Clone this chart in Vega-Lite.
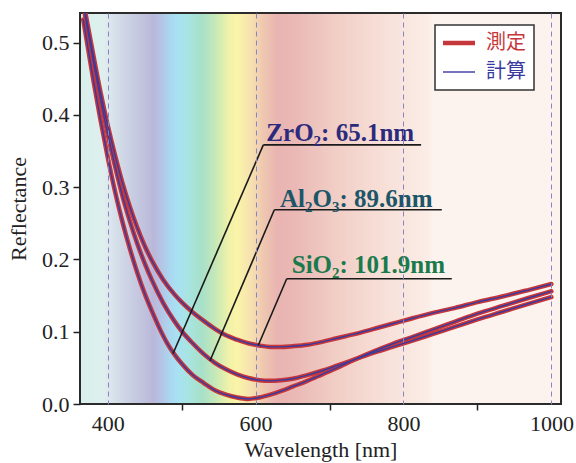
{
  "$schema": "https://vega.github.io/schema/vega-lite/v6.json",
  "width": 481,
  "height": 391,
  "autosize": {"type": "none"},
  "padding": {"left": 80, "top": 13, "right": 15, "bottom": 59},
  "background": "white",
  "config": {
    "font": "Liberation Serif",
    "view": {"stroke": null},
    "legend": {
      "orient": "none",
      "legendX": 355,
      "legendY": 12,
      "title": null,
      "symbolType": "M-1,0H2.2",
      "symbolSize": 400,
      "labelFontSize": 20,
      "labelFont": "Noto Sans CJK JP",
      "labelOffset": 23,
      "padding": 8,
      "rowPadding": 9,
      "fillColor": "white",
      "strokeColor": "#333333"
    }
  },
  "datasets": {
    "curves": [
      {"film": "ZrO2", "wl": 367, "R": 0.532},
      {"film": "ZrO2", "wl": 380, "R": 0.452},
      {"film": "ZrO2", "wl": 390, "R": 0.395},
      {"film": "ZrO2", "wl": 400, "R": 0.342},
      {"film": "ZrO2", "wl": 410, "R": 0.294},
      {"film": "ZrO2", "wl": 420, "R": 0.252},
      {"film": "ZrO2", "wl": 430, "R": 0.215},
      {"film": "ZrO2", "wl": 440, "R": 0.182},
      {"film": "ZrO2", "wl": 450, "R": 0.153},
      {"film": "ZrO2", "wl": 460, "R": 0.128},
      {"film": "ZrO2", "wl": 470, "R": 0.105},
      {"film": "ZrO2", "wl": 480, "R": 0.085},
      {"film": "ZrO2", "wl": 490, "R": 0.069},
      {"film": "ZrO2", "wl": 500, "R": 0.056},
      {"film": "ZrO2", "wl": 515, "R": 0.040},
      {"film": "ZrO2", "wl": 530, "R": 0.029},
      {"film": "ZrO2", "wl": 545, "R": 0.019},
      {"film": "ZrO2", "wl": 560, "R": 0.013},
      {"film": "ZrO2", "wl": 575, "R": 0.009},
      {"film": "ZrO2", "wl": 590, "R": 0.007},
      {"film": "ZrO2", "wl": 605, "R": 0.009},
      {"film": "ZrO2", "wl": 620, "R": 0.013},
      {"film": "ZrO2", "wl": 635, "R": 0.018},
      {"film": "ZrO2", "wl": 650, "R": 0.024},
      {"film": "ZrO2", "wl": 670, "R": 0.032},
      {"film": "ZrO2", "wl": 690, "R": 0.041},
      {"film": "ZrO2", "wl": 710, "R": 0.050},
      {"film": "ZrO2", "wl": 735, "R": 0.062},
      {"film": "ZrO2", "wl": 760, "R": 0.073},
      {"film": "ZrO2", "wl": 785, "R": 0.083},
      {"film": "ZrO2", "wl": 810, "R": 0.092},
      {"film": "ZrO2", "wl": 840, "R": 0.103},
      {"film": "ZrO2", "wl": 870, "R": 0.114},
      {"film": "ZrO2", "wl": 900, "R": 0.125},
      {"film": "ZrO2", "wl": 935, "R": 0.136},
      {"film": "ZrO2", "wl": 970, "R": 0.147},
      {"film": "ZrO2", "wl": 1000, "R": 0.156},
      {"film": "Al2O3", "wl": 367, "R": 0.552},
      {"film": "Al2O3", "wl": 380, "R": 0.478},
      {"film": "Al2O3", "wl": 390, "R": 0.424},
      {"film": "Al2O3", "wl": 400, "R": 0.374},
      {"film": "Al2O3", "wl": 410, "R": 0.329},
      {"film": "Al2O3", "wl": 420, "R": 0.288},
      {"film": "Al2O3", "wl": 430, "R": 0.253},
      {"film": "Al2O3", "wl": 440, "R": 0.222},
      {"film": "Al2O3", "wl": 450, "R": 0.195},
      {"film": "Al2O3", "wl": 460, "R": 0.171},
      {"film": "Al2O3", "wl": 475, "R": 0.140},
      {"film": "Al2O3", "wl": 490, "R": 0.115},
      {"film": "Al2O3", "wl": 500, "R": 0.101},
      {"film": "Al2O3", "wl": 515, "R": 0.084},
      {"film": "Al2O3", "wl": 530, "R": 0.069},
      {"film": "Al2O3", "wl": 545, "R": 0.057},
      {"film": "Al2O3", "wl": 560, "R": 0.048},
      {"film": "Al2O3", "wl": 575, "R": 0.041},
      {"film": "Al2O3", "wl": 590, "R": 0.036},
      {"film": "Al2O3", "wl": 605, "R": 0.033},
      {"film": "Al2O3", "wl": 620, "R": 0.032},
      {"film": "Al2O3", "wl": 635, "R": 0.033},
      {"film": "Al2O3", "wl": 650, "R": 0.035},
      {"film": "Al2O3", "wl": 670, "R": 0.040},
      {"film": "Al2O3", "wl": 690, "R": 0.046},
      {"film": "Al2O3", "wl": 710, "R": 0.053},
      {"film": "Al2O3", "wl": 735, "R": 0.062},
      {"film": "Al2O3", "wl": 760, "R": 0.071},
      {"film": "Al2O3", "wl": 785, "R": 0.079},
      {"film": "Al2O3", "wl": 810, "R": 0.087},
      {"film": "Al2O3", "wl": 840, "R": 0.097},
      {"film": "Al2O3", "wl": 870, "R": 0.107},
      {"film": "Al2O3", "wl": 900, "R": 0.117},
      {"film": "Al2O3", "wl": 935, "R": 0.128},
      {"film": "Al2O3", "wl": 970, "R": 0.139},
      {"film": "Al2O3", "wl": 1000, "R": 0.148},
      {"film": "SiO2", "wl": 367, "R": 0.557},
      {"film": "SiO2", "wl": 380, "R": 0.486},
      {"film": "SiO2", "wl": 390, "R": 0.433},
      {"film": "SiO2", "wl": 400, "R": 0.386},
      {"film": "SiO2", "wl": 410, "R": 0.344},
      {"film": "SiO2", "wl": 420, "R": 0.306},
      {"film": "SiO2", "wl": 430, "R": 0.273},
      {"film": "SiO2", "wl": 440, "R": 0.244},
      {"film": "SiO2", "wl": 450, "R": 0.219},
      {"film": "SiO2", "wl": 460, "R": 0.198},
      {"film": "SiO2", "wl": 475, "R": 0.172},
      {"film": "SiO2", "wl": 490, "R": 0.152},
      {"film": "SiO2", "wl": 500, "R": 0.141},
      {"film": "SiO2", "wl": 515, "R": 0.127},
      {"film": "SiO2", "wl": 530, "R": 0.115},
      {"film": "SiO2", "wl": 545, "R": 0.104},
      {"film": "SiO2", "wl": 560, "R": 0.095},
      {"film": "SiO2", "wl": 575, "R": 0.089},
      {"film": "SiO2", "wl": 590, "R": 0.084},
      {"film": "SiO2", "wl": 605, "R": 0.081},
      {"film": "SiO2", "wl": 620, "R": 0.079},
      {"film": "SiO2", "wl": 635, "R": 0.079},
      {"film": "SiO2", "wl": 650, "R": 0.080},
      {"film": "SiO2", "wl": 670, "R": 0.082},
      {"film": "SiO2", "wl": 690, "R": 0.086},
      {"film": "SiO2", "wl": 710, "R": 0.091},
      {"film": "SiO2", "wl": 735, "R": 0.097},
      {"film": "SiO2", "wl": 760, "R": 0.104},
      {"film": "SiO2", "wl": 785, "R": 0.111},
      {"film": "SiO2", "wl": 810, "R": 0.118},
      {"film": "SiO2", "wl": 840, "R": 0.126},
      {"film": "SiO2", "wl": 870, "R": 0.133},
      {"film": "SiO2", "wl": 900, "R": 0.141},
      {"film": "SiO2", "wl": 935, "R": 0.149},
      {"film": "SiO2", "wl": 970, "R": 0.158},
      {"film": "SiO2", "wl": 1000, "R": 0.166}
    ],
    "notes": [
      {"film": "ZrO2", "label": "ZrO₂: 65.1nm", "tx": 614.6, "ty": 0.3645, "cx": 610.5, "cy": 0.3585, "ex": 823.8, "px": 488.3, "py": 0.0696},
      {"film": "Al2O3", "label": "Al₂O₃: 89.6nm", "tx": 633.1, "ty": 0.2732, "cx": 625.4, "cy": 0.2687, "ex": 851.8, "px": 538.4, "py": 0.0599},
      {"film": "SiO2", "label": "SiO₂: 101.9nm", "tx": 648.9, "ty": 0.1811, "cx": 642.1, "cy": 0.1733, "ex": 865.3, "px": 603.7, "py": 0.0813}
    ]
  },
  "layer": [
    {
      "data": {"values": [{}]},
      "mark": {
        "type": "rect",
        "stroke": "#2b2b2b",
        "strokeWidth": 2,
        "fill": {
          "gradient": "linear",
          "x1": 0, "y1": 0, "x2": 1, "y2": 0,
          "stops": [
            {"offset": 0, "color": "#d9efec"},
            {"offset": 0.036, "color": "#dcf0ee"},
            {"offset": 0.05, "color": "#e0eeee"},
            {"offset": 0.073, "color": "#d6e0ea"},
            {"offset": 0.111, "color": "#c8cce2"},
            {"offset": 0.153, "color": "#bab8da"},
            {"offset": 0.168, "color": "#b4c4e4"},
            {"offset": 0.188, "color": "#aad8f0"},
            {"offset": 0.204, "color": "#a8e2f2"},
            {"offset": 0.227, "color": "#a8e4e0"},
            {"offset": 0.254, "color": "#a8e0c8"},
            {"offset": 0.28, "color": "#c4e8b8"},
            {"offset": 0.311, "color": "#f2f2a8"},
            {"offset": 0.327, "color": "#faf4a8"},
            {"offset": 0.357, "color": "#f6e0b0"},
            {"offset": 0.38, "color": "#efc8b0"},
            {"offset": 0.411, "color": "#e9b4b2"},
            {"offset": 0.45, "color": "#eab9b6"},
            {"offset": 0.519, "color": "#f0cbc3"},
            {"offset": 0.596, "color": "#f5dad2"},
            {"offset": 0.673, "color": "#f9e6de"},
            {"offset": 0.726, "color": "#fbede7"},
            {"offset": 0.734, "color": "#fdf3ee"},
            {"offset": 1, "color": "#fdf3ee"}
          ]
        }
      },
      "encoding": {
        "x": {
          "datum": 362.6,
          "type": "quantitative",
          "title": "Wavelength [nm]",
          "scale": {"domain": [362.6, 1013], "nice": false, "zero": false},
          "axis": {
            "values": [400, 500, 600, 700, 800, 900, 1000],
            "labelExpr": "datum.value % 200 == 0 ? datum.label : ''",
            "format": "d",
            "domain": false,
            "grid": true,
            "gridColor": {"condition": {"test": "datum.value % 200 != 0", "value": "transparent"}, "value": "#8484c6"},
            "gridDash": [5, 4],
            "gridWidth": 1,
            "tickColor": {"condition": {"test": "datum.value % 200 == 0", "value": "transparent"}, "value": "#222222"},
            "tickSize": 6,
            "tickWidth": 1.5,
            "labelFontSize": 22,
            "labelColor": "#222222",
            "labelPadding": 3,
            "labelFlush": false,
            "labelOverlap": false,
            "titleFontSize": 22,
            "titleFontWeight": "normal",
            "titleColor": "#222222",
            "titlePadding": 5,
            "zindex": 1
          }
        },
        "x2": {"datum": 1013},
        "y": {
          "datum": 0,
          "type": "quantitative",
          "title": "Reflectance",
          "scale": {"domain": [0, 0.541], "nice": false},
          "axis": {
            "values": [0, 0.1, 0.2, 0.3, 0.4, 0.5],
            "format": ".1f",
            "domain": false,
            "grid": false,
            "tickColor": "#222222",
            "tickSize": 7,
            "tickWidth": 1.5,
            "labelFontSize": 22,
            "labelColor": "#222222",
            "labelPadding": 4,
            "labelFlush": false,
            "labelOverlap": false,
            "titleFontSize": 22,
            "titleFontWeight": "normal",
            "titleColor": "#222222",
            "titlePadding": 11,
            "zindex": 1
          }
        },
        "y2": {"datum": 0.541}
      }
    },
    {
      "data": {"name": "curves"},
      "mark": {"type": "line", "strokeWidth": 4.5, "clip": true, "interpolate": "monotone", "strokeCap": "round"},
      "encoding": {
        "x": {"field": "wl", "type": "quantitative", "title": "Wavelength [nm]"},
        "y": {"field": "R", "type": "quantitative", "title": "Reflectance"},
        "detail": {"field": "film"},
        "color": {
          "datum": "測定",
          "type": "nominal",
          "scale": {"domain": ["測定", "計算"], "range": ["#c6373b", "#3a3a9e"]},
          "legend": {
            "encode": {
              "symbols": {"update": {"strokeWidth": {"signal": "datum.value == '測定' ? 4.5 : 1.4"}, "fill": {"value": "transparent"}}},
              "labels": {"update": {"fill": {"signal": "datum.value == '測定' ? '#c6373b' : '#3a3a9e'"}}},
              "legend": {"update": {"strokeWidth": {"value": 1.5}}}
            }
          }
        }
      }
    },
    {
      "data": {"name": "curves"},
      "mark": {"type": "line", "strokeWidth": 1.4, "clip": true, "interpolate": "monotone"},
      "encoding": {
        "x": {"field": "wl", "type": "quantitative", "title": "Wavelength [nm]"},
        "y": {"field": "R", "type": "quantitative", "title": "Reflectance"},
        "detail": {"field": "film"},
        "color": {"datum": "計算", "type": "nominal"}
      }
    },
    {
      "data": {"name": "notes"},
      "mark": {"type": "rule", "color": "#1a1a1a", "strokeWidth": 1.6},
      "encoding": {
        "x": {"field": "px", "type": "quantitative", "title": "Wavelength [nm]"},
        "y": {"field": "py", "type": "quantitative", "title": "Reflectance"},
        "x2": {"field": "cx"},
        "y2": {"field": "cy"}
      }
    },
    {
      "data": {"name": "notes"},
      "mark": {"type": "rule", "color": "#1a1a1a", "strokeWidth": 1.6},
      "encoding": {
        "x": {"field": "cx", "type": "quantitative", "title": "Wavelength [nm]"},
        "x2": {"field": "ex"},
        "y": {"field": "cy", "type": "quantitative", "title": "Reflectance"}
      }
    },
    {
      "data": {"name": "notes"},
      "mark": {"type": "text", "align": "left", "baseline": "alphabetic", "font": "Liberation Serif", "fontWeight": "bold", "fontSize": 25},
      "encoding": {
        "x": {"field": "tx", "type": "quantitative", "title": "Wavelength [nm]"},
        "y": {"field": "ty", "type": "quantitative", "title": "Reflectance"},
        "text": {"field": "label"},
        "fill": {
          "field": "film",
          "type": "nominal",
          "scale": {"domain": ["ZrO2", "Al2O3", "SiO2"], "range": ["#2c2a7c", "#1c5668", "#1a7a4c"]},
          "legend": null
        }
      }
    }
  ]
}
